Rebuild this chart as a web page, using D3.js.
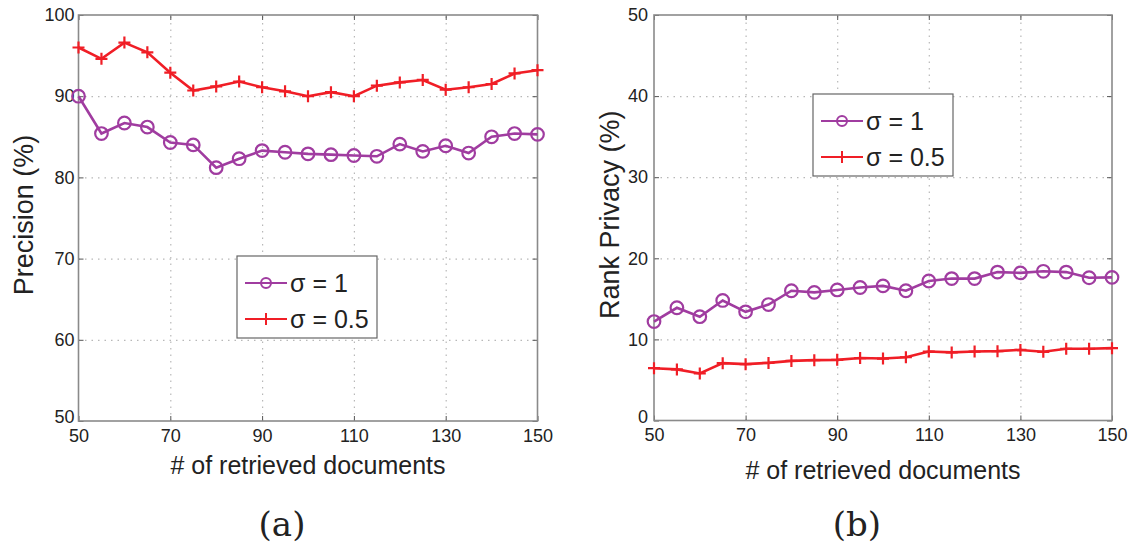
<!DOCTYPE html>
<html>
<head>
<meta charset="utf-8">
<script src="https://cdn.jsdelivr.net/npm/d3@7"></script>
<style>
  body { margin: 0; background: #fff; }
  svg { display: block; }
  text { font-family: "Liberation Sans", Arial, sans-serif; fill: #222; }
</style>
</head>
<body>
<svg width="1133" height="544"></svg>
<script>
// values
const docs = [50, 55, 60, 65, 70, 75, 80, 85, 90, 95, 100, 105, 110, 115, 120, 125, 130, 135, 140, 145, 150];
const precisionSigma1 = [90.0, 85.4, 86.7, 86.2, 84.3, 84.0, 81.2, 82.3, 83.3, 83.1, 82.9, 82.8, 82.7, 82.6, 84.1, 83.2, 83.9, 83.0, 85.0, 85.4, 85.3];
const precisionSigma05 = [96.0, 94.6, 96.6, 95.4, 92.9, 90.7, 91.2, 91.8, 91.1, 90.6, 90.0, 90.5, 90.0, 91.3, 91.7, 92.0, 90.8, 91.1, 91.5, 92.8, 93.2];
const privacySigma1 = [12.2, 13.9, 12.8, 14.8, 13.4, 14.3, 16.0, 15.8, 16.1, 16.4, 16.6, 16.0, 17.2, 17.5, 17.5, 18.3, 18.2, 18.4, 18.3, 17.6, 17.65];
const privacySigma05 = [6.45, 6.3, 5.8, 7.07, 6.95, 7.1, 7.35, 7.44, 7.48, 7.7, 7.64, 7.8, 8.5, 8.4, 8.5, 8.55, 8.7, 8.47, 8.84, 8.84, 8.92];
const seriesNames = ["σ = 1", "σ = 0.5"];
const xTicks = [50, 70, 90, 110, 130, 150];
const precisionTicks = [50, 60, 70, 80, 90, 100];
const privacyTicks = [0, 10, 20, 30, 40, 50];

const purple = "#a03ca0";
const red = "#f01e26";

const svg = d3.select("svg");

const drawPanel = (opts) => {
  const { left, right, top, bottom } = opts;
  const innerWidth = right - left;
  const innerHeight = bottom - top;

  const xScale = d3.scaleLinear().domain([50, 150]).range([0, innerWidth]);
  const yScale = d3.scaleLinear().domain(opts.yDomain).range([innerHeight, 0]);

  const g = svg.append("g").attr("transform", `translate(${left}, ${top})`);

  // dotted grid
  const gridY = g.append("g").call(
    d3.axisLeft(yScale).tickValues(opts.yTicks.slice(1, -1)).tickSize(-innerWidth).tickFormat("")
  );
  const gridX = g.append("g").attr("transform", `translate(0, ${innerHeight})`).call(
    d3.axisBottom(xScale).tickValues(xTicks.slice(1, -1)).tickSize(-innerHeight).tickFormat("")
  );
  [gridX, gridY].forEach((sel) => {
    sel.select(".domain").remove();
    sel.selectAll("line").attr("stroke", "#b8b8b8").attr("stroke-width", 1.2).attr("stroke-dasharray", "1.5,5");
  });

  // axes, ticks pointing inward
  const yAxis = g.append("g").call(
    d3.axisLeft(yScale).tickValues(opts.yTicks).tickSize(-5).tickPadding(opts.yPad)
  );
  const yAxisR = g.append("g").attr("transform", `translate(${innerWidth}, 0)`).call(
    d3.axisRight(yScale).tickValues(opts.yTicks).tickSize(-5).tickFormat("")
  );
  const xAxis = g.append("g").attr("transform", `translate(0, ${innerHeight})`).call(
    d3.axisBottom(xScale).tickValues(xTicks).tickSize(-5).tickPadding(8)
  );
  const xAxisT = g.append("g").call(
    d3.axisTop(xScale).tickValues(xTicks).tickSize(-5).tickFormat("")
  );
  [yAxis, yAxisR, xAxis, xAxisT].forEach((sel) => {
    sel.select(".domain").remove();
    sel.selectAll("line").attr("stroke", "#555").attr("stroke-width", 1);
    sel.selectAll("text").style("font-size", "18px").attr("fill", "#222")
      .style("font-family", "'Liberation Sans', Arial, sans-serif");
  });
  // lift the bottom y label a touch so it clears the first x label
  yAxis.selectAll(".tick text").filter((d) => d === opts.yDomain[0]).attr("dy", "0.1em");

  g.append("rect")
    .attr("width", innerWidth)
    .attr("height", innerHeight)
    .attr("fill", "none")
    .attr("stroke", "#8a8a8a")
    .attr("stroke-width", 1.6);

  const line = d3.line().x((d, i) => xScale(docs[i])).y((d) => yScale(d));

  // sigma = 0.5 (red plus)
  g.append("path").datum(opts.s05).attr("d", line)
    .attr("fill", "none").attr("stroke", red).attr("stroke-width", 2.6);
  g.selectAll(".plus").data(opts.s05).enter().append("path")
    .attr("class", "plus")
    .attr("transform", (d, i) => `translate(${xScale(docs[i])}, ${yScale(d)})`)
    .attr("d", "M-6,0H6M0,-6V6")
    .attr("stroke", red).attr("stroke-width", 2.2);

  // sigma = 1 (purple circle)
  g.append("path").datum(opts.s1).attr("d", line)
    .attr("fill", "none").attr("stroke", purple).attr("stroke-width", 2.6);
  g.selectAll(".circ").data(opts.s1).enter().append("circle")
    .attr("class", "circ")
    .attr("cx", (d, i) => xScale(docs[i]))
    .attr("cy", (d) => yScale(d))
    .attr("r", 6.3)
    .attr("fill", "none").attr("stroke", purple).attr("stroke-width", 2.2);

  // legend
  const lg = g.append("g").attr("transform", `translate(${opts.legend[0] - left}, ${opts.legend[1] - top})`);
  lg.append("rect").attr("width", 140).attr("height", 82)
    .attr("fill", "#fff").attr("stroke", "#666").attr("stroke-width", 1.2);
  seriesNames.forEach((name, i) => {
    const ly = 27 + i * 36;
    const color = i === 0 ? purple : red;
    lg.append("line").attr("x1", 8).attr("x2", 50).attr("y1", ly).attr("y2", ly)
      .attr("stroke", color).attr("stroke-width", 2.2);
    if (i === 0) {
      lg.append("circle").attr("cx", 29).attr("cy", ly).attr("r", 5)
        .attr("fill", "none").attr("stroke", color).attr("stroke-width", 2);
    } else {
      lg.append("path").attr("transform", `translate(29, ${ly})`).attr("d", "M-6,0H6M0,-6V6")
        .attr("stroke", color).attr("stroke-width", 2);
    }
    lg.append("text").attr("x", 53).attr("y", ly + 9).text(name).style("font-size", "25px");
  });

  // axis labels
  g.append("text")
    .attr("transform", `translate(${opts.yLabelX - left}, ${innerHeight / 2 - 3}) rotate(-90)`)
    .attr("text-anchor", "middle")
    .style("font-size", "27px")
    .text(opts.yLabel);

  g.append("text")
    .attr("x", innerWidth / 2)
    .attr("y", opts.xLabelY - top)
    .attr("text-anchor", "middle")
    .style("font-size", "25px")
    .text("# of retrieved documents");

  g.append("text")
    .attr("x", innerWidth / 2 - 26)
    .attr("y", 536 - top)
    .attr("text-anchor", "middle")
    .style("font-family", "'DejaVu Serif', serif")
    .style("font-size", "34px")
    .text(opts.caption);
};

drawPanel({
  left: 78.5, right: 537.5, top: 15, bottom: 421,
  yDomain: [50, 100], yTicks: precisionTicks, yPad: 4,
  s1: precisionSigma1, s05: precisionSigma05,
  yLabel: "Precision (%)", yLabelX: 33, xLabelY: 474,
  legend: [237, 256], caption: "(a)"
});

drawPanel({
  left: 654, right: 1112, top: 15, bottom: 420.5,
  yDomain: [0, 50], yTicks: privacyTicks, yPad: 6,
  s1: privacySigma1, s05: privacySigma05,
  yLabel: "Rank Privacy (%)", yLabelX: 619, xLabelY: 479,
  legend: [813, 94], caption: "(b)"
});
</script>
</body>
</html>
